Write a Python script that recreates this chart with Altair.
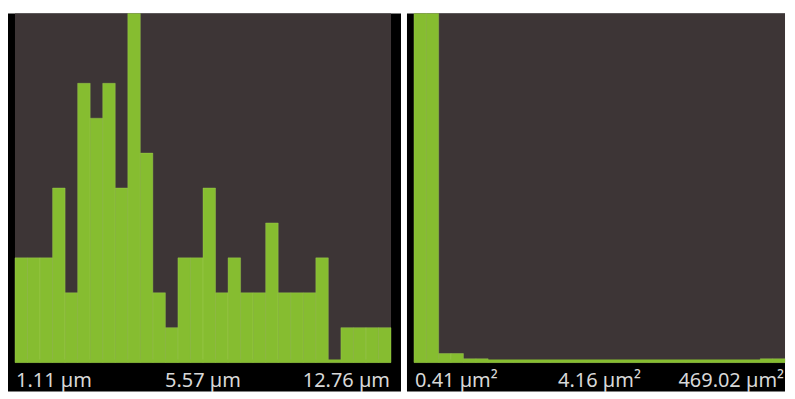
import altair as alt
import pandas as pd

# Left histogram: counts per bin (30 equal bins)
left_counts = [3, 3, 3, 5, 2, 8, 7, 8, 5, 10, 6, 2, 1, 3, 3, 5, 2, 3, 2, 2,
               4, 2, 2, 2, 3, 0, 1, 1, 1, 1]
left_labels = ["1.11 µm", "5.57 µm", "12.76 µm"]

# Right histogram: counts per bin (30 equal bins)
right_counts = [1000, 1000, 26, 26, 11, 11, 1, 1, 1, 1, 1, 1, 1, 1, 1, 1,
                1, 1, 1, 1, 1, 1, 1, 1, 1, 1, 1, 1, 11, 11]
right_labels = ["0.41 µm²", "4.16 µm²", "469.02 µm²"]

GREEN = "#86bd30"
GRAY = "#3d3536"
LABEL = "#d8d8d8"
FONT = "Noto Sans"
H = 379


def panel(counts, labels, width, x_range, ymax):
    n = len(counts)
    df = pd.DataFrame({
        "x0": list(range(n)),
        "x1": [i + 1 for i in range(n)],
        "count": counts,
    })
    lab = pd.DataFrame({"pos": [0, n / 2, n], "label": labels})
    xs = alt.Scale(domain=[0, n], range=x_range, nice=False, zero=False)
    ys = alt.Scale(domain=[0, ymax], range=[350, 0], nice=False, clamp=True)

    bg = alt.Chart(pd.DataFrame({"a": [0]})).mark_rect(color=GRAY).encode(
        x=alt.value(x_range[0]), x2=alt.value(x_range[1]),
        y=alt.value(0), y2=alt.value(350),
    )
    bars = alt.Chart(df).mark_rect(
        color=GREEN, stroke="#a2d05a", strokeWidth=0.7, strokeOpacity=0.55
    ).encode(
        x=alt.X("x0:Q", scale=xs, axis=None),
        x2="x1:Q",
        y=alt.Y("count:Q", scale=ys, axis=None),
        y2=alt.datum(0),
    )
    base = alt.Chart(pd.DataFrame({"a": [0]})).mark_rule(
        color=GREEN, strokeWidth=3
    ).encode(
        x=alt.value(x_range[0]), x2=alt.value(x_range[1]), y=alt.value(348.5)
    )
    common = dict(fontSize=20, font=FONT, color=LABEL, baseline="alphabetic")
    t_left = alt.Chart(lab.iloc[[0]]).mark_text(align="left", dx=1, **common).encode(
        x=alt.X("pos:Q", scale=xs, axis=None), y=alt.value(374), text="label:N")
    t_mid = alt.Chart(lab.iloc[[1]]).mark_text(align="center", **common).encode(
        x=alt.X("pos:Q", scale=xs, axis=None), y=alt.value(374), text="label:N")
    t_right = alt.Chart(lab.iloc[[2]]).mark_text(align="right", dx=-1, **common).encode(
        x=alt.X("pos:Q", scale=xs, axis=None), y=alt.value(374), text="label:N")
    return alt.layer(bg, bars, base, t_left, t_mid, t_right).properties(
        width=width, height=H
    )


left = panel(left_counts, left_labels, 394, [7, 384], 10)
right = panel(right_counts, right_labels, 379, [7, 379], 1000)

chart = alt.hconcat(left, right, spacing=6).properties(
    padding={"left": 0, "top": 4, "right": 0, "bottom": 0},
    background="white",
).configure_view(fill="black", strokeWidth=0)

chart.save("out.html", embed_options={"renderer": "svg", "actions": False})
